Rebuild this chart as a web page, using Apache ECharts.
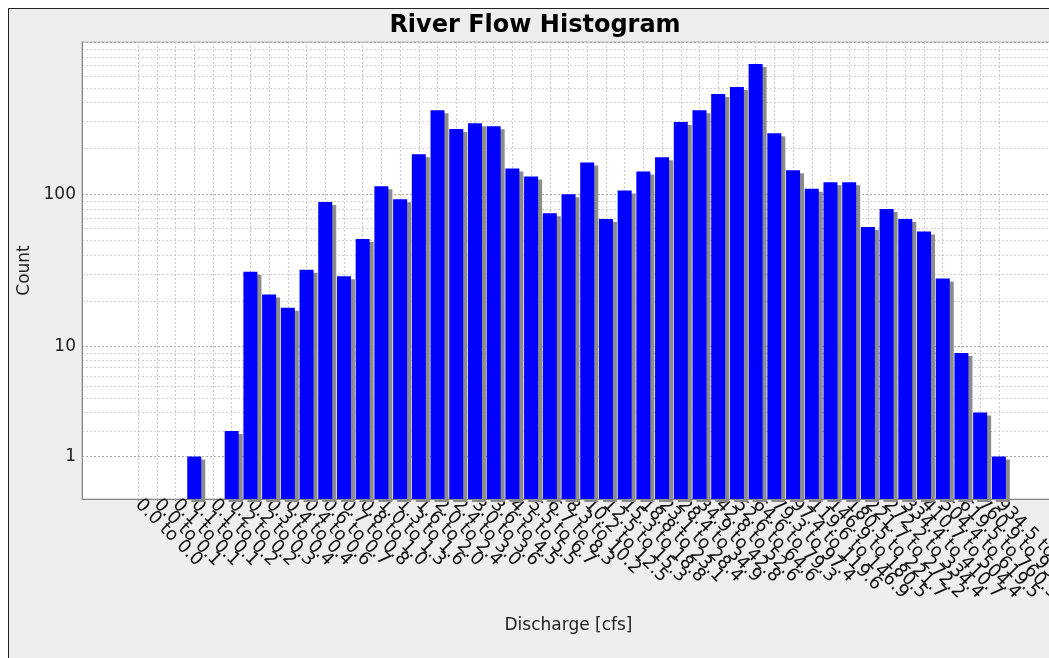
<!DOCTYPE html>
<html><head><meta charset="utf-8">
<script src="https://cdn.jsdelivr.net/npm/echarts@6/dist/echarts.min.js"></script>
<style>
html,body{margin:0;padding:0;background:#fff;overflow:hidden;width:1049px;height:658px}
#frame{position:absolute;left:8px;top:8px;width:1100px;height:700px;background:#eeeeee;border-left:1px solid #222;border-top:1px solid #222;}
#chart{position:absolute;left:0;top:0;width:1049px;height:658px;}
</style></head><body>
<div id="frame"></div><div id="chart"></div>
<script>
// Bin edges of the discharge histogram [cfs]
const binEdges = [0.0, 0.04, 0.06, 0.1, 0.14, 0.2, 0.24, 0.3, 0.36, 0.44, 0.6, 0.7, 0.8,
  1.0, 1.3, 1.6, 2.0, 2.4, 3.0, 3.6, 4.5, 5.5, 6.7, 8.3, 10.2, 12.5, 15.3, 18.8, 23.1,
  28.4, 34.9, 42.8, 52.6, 64.6, 79.3, 97.4, 119.6, 146.9, 180.5, 221.7, 272.2, 334.4,
  410.7, 504.4, 619.5, 760.9, 934.5, 1147.7, 1410.0];
// Count in each bin
const counts = [0, 0, 0, 1, 0, 2, 31, 22, 18, 32, 89, 29, 51, 113, 93, 183, 357, 268, 293,
  280, 148, 131, 75, 100, 162, 69, 106, 141, 175, 298, 357, 455, 506, 716, 252, 144, 109,
  120, 120, 61, 80, 69, 57, 28, 9, 3, 1];
// Labelled y ticks and log grid lines
const yTickLabels = [1, 10, 100];
const yGridValues = [1, 2, 3, 4, 5, 6, 7, 8, 9, 10, 20, 30, 40, 50, 60, 70, 80, 90,
  100, 200, 300, 400, 500, 600, 700, 800, 900, 1000];

const categories = counts.map((c, i) => binEdges[i].toFixed(1) + ' to ' + binEdges[i + 1].toFixed(1));

// JFreeChart-style adjusted log10
function adjLog(v) { if (v < 10) v = v + (10 - v) / 10; return Math.log10(v); }
function invAdjLog(f) { const u = Math.pow(10, f); return f >= 1 ? u : (u - 1) / 0.9; }

const PAD = 3;
const padCats = new Array(PAD).fill('');
const axisCats = padCats.concat(categories, padCats);
const padData = new Array(PAD).fill(null);
const barData = padData.concat(counts.map(c => c > 0 ? adjLog(c) : null), padData);
const realCat = (idx, val) => val !== '';

const FONT = 'DejaVu Sans';
const chart = echarts.init(document.getElementById('chart'), null, {renderer: 'canvas'});
chart.setOption({
  animation: false,
  backgroundColor: 'transparent',
  title: {
    text: 'River Flow Histogram', left: 535, top: 14, textAlign: 'center', padding: 0,
    textStyle: {fontFamily: FONT, fontSize: 24, fontWeight: 'bold', color: '#000'}
  },
  grid: {
    left: 82, top: 42, right: -6, bottom: 159, containLabel: false, outerBoundsMode: 'none',
    show: true, backgroundColor: '#ffffff', borderColor: '#b0b0b0', borderWidth: 1
  },
  xAxis: {
    type: 'category', data: axisCats, boundaryGap: false,
    name: 'Discharge [cfs]', nameLocation: 'middle', nameGap: 111,
    nameTextStyle: {fontFamily: FONT, fontSize: 17, color: '#222'},
    axisLine: {lineStyle: {color: '#888', width: 1}},
    axisTick: {show: true, length: 2, interval: realCat, lineStyle: {color: '#888'}},
    axisLabel: {interval: 0, rotate: -45, fontFamily: FONT, fontSize: 18, color: '#111', margin: 3},
    splitLine: {show: true, interval: realCat, lineStyle: {color: '#c8c8c8', type: [2, 2], width: 1}}
  },
  yAxis: {
    type: 'value', min: 0, max: 3,
    name: 'Count', nameLocation: 'middle', nameGap: 45, nameRotate: 90,
    nameTextStyle: {fontFamily: FONT, fontSize: 17, color: '#222'},
    axisLine: {show: true, lineStyle: {color: '#888', width: 1}},
    axisTick: {show: false, customValues: yGridValues.map(adjLog)},
    axisLabel: {
      customValues: yTickLabels.map(adjLog), fontFamily: FONT, fontSize: 17, color: '#222', margin: 6,
      formatter: v => String(Math.round(invAdjLog(v)))
    },
    splitLine: {show: true, lineStyle: {color: ['#a8a8a8', '#cfcfcf', '#cfcfcf', '#cfcfcf', '#cfcfcf', '#cfcfcf', '#cfcfcf', '#cfcfcf', '#cfcfcf'], type: [2, 2], width: 1}}
  },
  series: [{
    type: 'bar', data: barData, barWidth: 14, silent: true,
    itemStyle: {color: '#0000ff', shadowColor: '#8c8c8c', shadowOffsetX: 4, shadowOffsetY: 3, shadowBlur: 0}
  }]
});
</script>
</body></html>
